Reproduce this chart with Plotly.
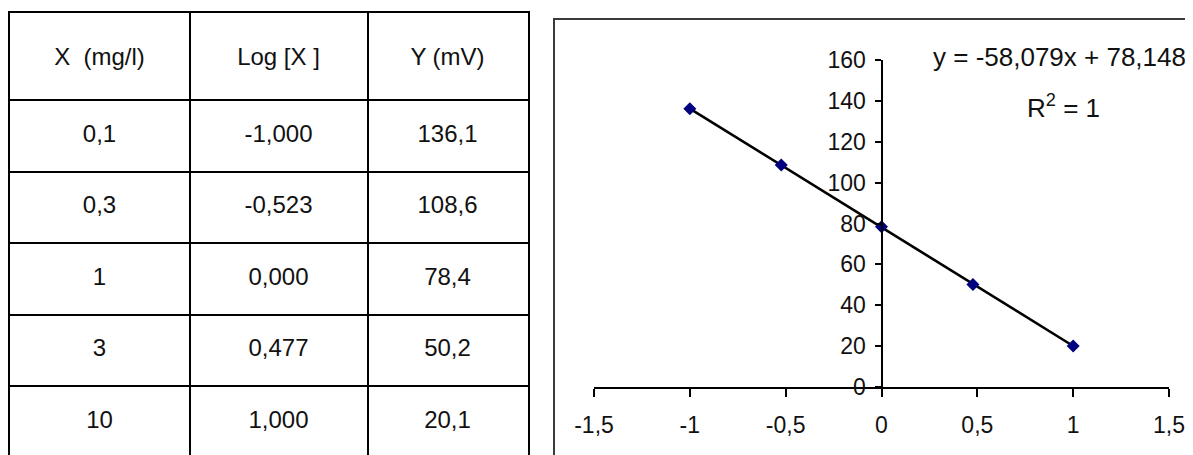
import numpy as np
import plotly.graph_objects as go

# ---------------- data ----------------
headers = ["X\u00a0 (mg/l)", "Log [X\u00a0]", "Y (mV)"]
conc = ["0,1", "0,3", "1", "3", "10"]
log_x_txt = ["-1,000", "-0,523", "0,000", "0,477", "1,000"]
y_txt = ["136,1", "108,6", "78,4", "50,2", "20,1"]

log_x = [-1.000, -0.523, 0.000, 0.477, 1.000]
y_mv = [136.1, 108.6, 78.4, 50.2, 20.1]

x_ticks = [-1.5, -1, -0.5, 0, 0.5, 1, 1.5]
x_tick_labels = ["-1,5", "-1", "-0,5", "0", "0,5", "1", "1,5"]
y_ticks = [0, 20, 40, 60, 80, 100, 120, 140, 160]
y_tick_labels = ["0", "20", "40", "60", "80", "100", "120", "140", "160"]

eq_text = "y = -58,079x + 78,148"
r2_text = "R<sup>2</sup> = 1"

# ---------------- layout constants ----------------
W, H = 1193, 455
OFF = 8                      # page body margin offset in the browser
col_w = [180, 178, 160]
header_h = 87
row_h = 71.5
table_left, table_top = 9.5 - OFF, 13 - OFF

chart_x0, chart_x1 = 594 - OFF, 1169 - OFF     # px of x range ends
chart_y0, chart_y1 = 387 - OFF, 60 - OFF       # px of y range ends
frame_left, frame_top = 554 - OFF, 19 - OFF
eq_x, eq_y, r2_x, r2_y = 1059 - OFF, 57 - OFF, 1063 - OFF, 106 - OFF

FONT = "Liberation Sans, Arial, sans-serif"
TICKFONT = "Liberation Sans Narrow, Arial Narrow, Liberation Sans, Arial, sans-serif"

fig = go.Figure()

# ---------------- table (drawn on its own axes) ----------------
bounds = np.cumsum([0] + col_w)
col_centers = (bounds[:-1] + bounds[1:]) / 2
table_w = bounds[-1]
table_h = H - table_top
row_bounds = [header_h + row_h * i for i in range(len(conc))]
row_centers = [header_h + row_h * (i + 0.5) for i in range(len(conc))]

cells_x, cells_y, cells_t = [], [], []
for j, h in enumerate(headers):
    cells_x.append(col_centers[j]); cells_y.append(header_h / 2 + 2); cells_t.append(h)
for col_vals, j in ((conc, 0), (log_x_txt, 1), (y_txt, 2)):
    for i, v in enumerate(col_vals):
        cells_x.append(col_centers[j]); cells_y.append(row_centers[i]); cells_t.append(v)

fig.add_trace(go.Scatter(
    x=cells_x, y=cells_y, text=cells_t, mode="text",
    textposition="middle center",
    textfont=dict(family=FONT, size=24, color="#111111"),
    xaxis="x2", yaxis="y2", hoverinfo="skip", showlegend=False,
))

# ---------------- chart ----------------
slope, intercept = np.polyfit(log_x, y_mv, 1)
fit_x = [min(log_x), max(log_x)]
fit_y = [slope * v + intercept for v in fit_x]

fig.add_trace(go.Scatter(
    x=fit_x, y=fit_y, mode="lines",
    line=dict(color="black", width=2.6),
    showlegend=False, hoverinfo="skip", cliponaxis=False,
))
fig.add_trace(go.Scatter(
    x=log_x, y=y_mv, mode="markers",
    marker=dict(symbol="diamond", size=10, color="#000080"),
    showlegend=False, cliponaxis=False,
))

dx0, dx1 = chart_x0 / W, chart_x1 / W
dy0, dy1 = 1 - chart_y0 / H, 1 - chart_y1 / H
xr = [x_ticks[0], x_ticks[-1]]
yr = [y_ticks[0], y_ticks[-1]]
y_axis_pos = dx0 + (0 - xr[0]) / (xr[1] - xr[0]) * (dx1 - dx0)

fig.update_layout(
    template="none",
    width=W, height=H,
    margin=dict(l=0, r=0, t=0, b=0, pad=0, autoexpand=False),
    paper_bgcolor="white", plot_bgcolor="rgba(0,0,0,0)",
    separators=", ",
    xaxis=dict(
        domain=[dx0, dx1], range=xr, anchor="y", automargin=False,
        tickmode="array", tickvals=x_ticks, ticktext=x_tick_labels,
        showgrid=False, zeroline=False,
        showline=True, linecolor="black", linewidth=2,
        ticks="outside", ticklen=8, tickwidth=2, tickcolor="black",
        tickfont=dict(family=TICKFONT, size=23, color="#111111"),
        ticklabelstandoff=8,
    ),
    yaxis=dict(
        domain=[dy0, dy1], range=yr, anchor="free", position=y_axis_pos,
        automargin=False,
        tickmode="array", tickvals=y_ticks, ticktext=y_tick_labels,
        showgrid=False, zeroline=False,
        showline=True, linecolor="black", linewidth=2,
        ticks="outside", ticklen=6, tickwidth=2, tickcolor="black",
        tickfont=dict(family=TICKFONT, size=23, color="#111111"),
        ticklabelstandoff=4,
    ),
    xaxis2=dict(
        domain=[table_left / W, (table_left + table_w) / W], range=[0, table_w],
        anchor="y2", side="top", automargin=False,
        tickmode="array", tickvals=list(bounds[1:-1]),
        showgrid=True, gridcolor="black", gridwidth=2,
        showticklabels=False, ticks="", zeroline=False,
        showline=True, linecolor="black", linewidth=2,
        fixedrange=True,
    ),
    yaxis2=dict(
        domain=[0, 1 - table_top / H], range=[table_h, 0],
        anchor="x2", automargin=False,
        tickmode="array", tickvals=row_bounds,
        showgrid=True, gridcolor="black", gridwidth=2,
        showticklabels=False, ticks="", zeroline=False,
        showline=True, mirror=True, linecolor="black", linewidth=2,
        fixedrange=True,
    ),
    shapes=[dict(
        type="rect", xref="paper", yref="paper",
        x0=frame_left / W, x1=1.05, y0=-0.05, y1=1 - frame_top / H,
        line=dict(color="#3a3a3a", width=2), fillcolor="rgba(0,0,0,0)",
        layer="below",
    )],
    annotations=[
        dict(text=eq_text, xref="paper", yref="paper", x=eq_x / W, y=1 - eq_y / H,
             showarrow=False, xanchor="center", yanchor="middle",
             font=dict(family=FONT, size=26, color="#111111")),
        dict(text=r2_text, xref="paper", yref="paper", x=r2_x / W, y=1 - r2_y / H,
             showarrow=False, xanchor="center", yanchor="middle",
             font=dict(family=FONT, size=26, color="#111111")),
    ],
)

fig.write_html("out.html")
